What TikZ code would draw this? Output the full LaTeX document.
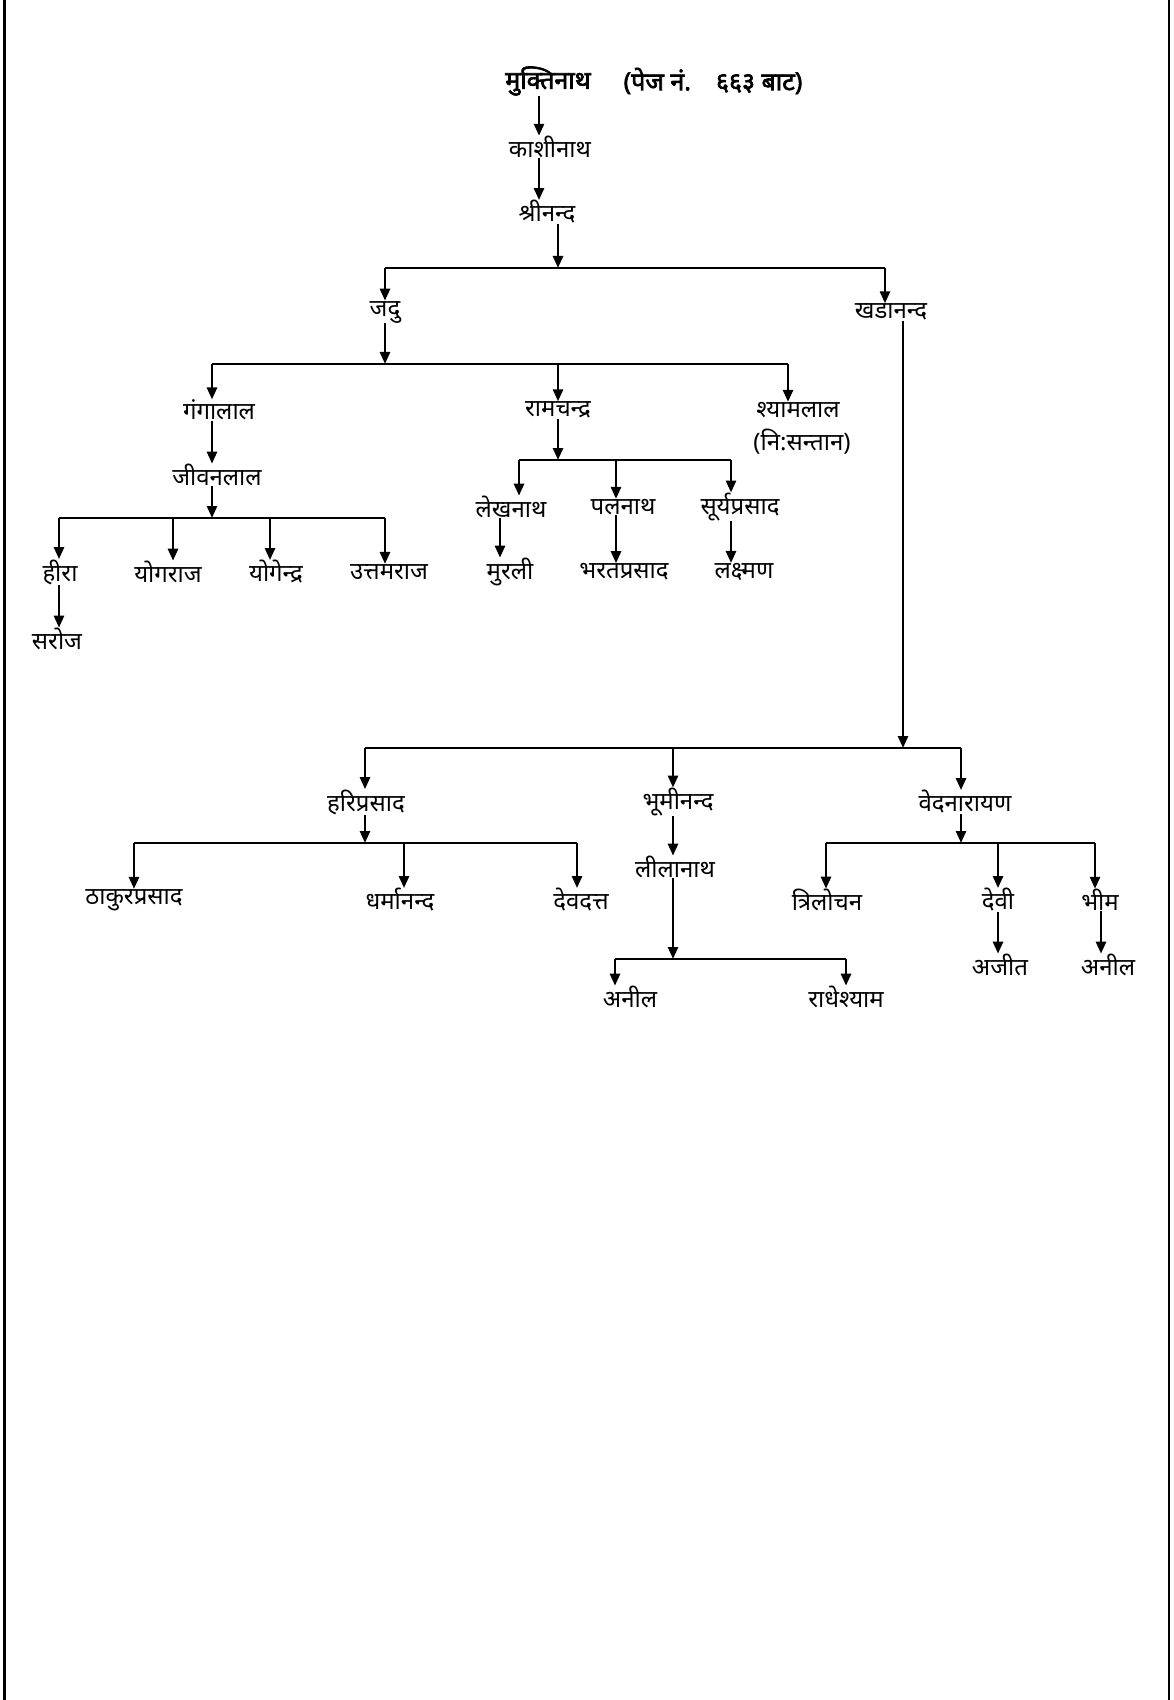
\documentclass[tikz,border=0pt]{standalone}
\usepackage{fontspec}
\setmainfont{Noto Sans}[Script=Devanagari]
\newfontfamily\titlefont{Noto Sans}[Script=Devanagari, FakeBold=2.5]
\usetikzlibrary{arrows.meta}
\begin{document}
\begin{tikzpicture}[x=0.5pt,y=-0.5pt,
  pn/.style={inner sep=0pt, font=\fontsize{12}{14}\selectfont},
  tn/.style={inner sep=0pt, font=\titlefont\fontsize{12.5}{14}\selectfont},
  arr/.style={line width=1.3pt, -{Triangle[length=6pt,width=5pt]}},
  ln/.style={line width=1.3pt}]
\useasboundingbox (0,0) rectangle (1173,1700);
\draw[line width=1.1pt] (4.5,0) -- (4.5,1700);
\draw[line width=1.1pt] (1169,0) -- (1169,1700);

% nodes
\node[tn] (mukti) at (548,81) {मुक्तिनाथ};
\node[tn] (note) at (713,81) {(पेज नं.\quad ६६३ बाट)};
\node[pn] (kashi) at (550,147) {काशीनाथ};
\node[pn] (shri) at (547,212) {श्रीनन्द};
\node[pn] (jedu) at (385,312) {जदु};
\node[pn] (khad) at (891,312) {खडानन्द};
\node[pn] (ganga) at (219,410) {गंगालाल};
\node[pn] (ram) at (558,410) {रामचन्द्र};
\node[pn] (shyam) at (798,410) {श्यामलाल};
\node[pn] (nis) at (802,442) {(नि:सन्तान)};
\node[pn] (jivan) at (217,475) {जीवनलाल};
\node[pn] (heera) at (60,572) {हीरा};
\node[pn] (yogaraj) at (168,572) {योगराज};
\node[pn] (yogendra) at (276,572) {योगेन्द्र};
\node[pn] (uttam) at (389,572) {उत्तमराज};
\node[pn] (saroj) at (57,639) {सरोज};
\node[pn] (lekh) at (511,507) {लेखनाथ};
\node[pn] (pal) at (623,507) {पलनाथ};
\node[pn] (surya) at (740,507) {सूर्यप्रसाद};
\node[pn] (murali) at (510,572) {मुरली};
\node[pn] (bharat) at (624,572) {भरतप्रसाद};
\node[pn] (laxman) at (744,572) {लक्ष्मण};
\node[pn] (hari) at (366,802) {हरिप्रसाद};
\node[pn] (bhumi) at (678,802) {भूमीनन्द};
\node[pn] (ved) at (965,802) {वेदनारायण};
\node[pn] (thakur) at (134,900) {ठाकुरप्रसाद};
\node[pn] (dharma) at (400,900) {धर्मानन्द};
\node[pn] (devdatta) at (581,900) {देवदत्त};
\node[pn] (leela) at (675,867) {लीलानाथ};
\node[pn] (anilA) at (630,997) {अनील};
\node[pn] (radhe) at (846,997) {राधेश्याम};
\node[pn] (trilo) at (827,900) {त्रिलोचन};
\node[pn] (devi) at (998,900) {देवी};
\node[pn] (bhim) at (1100,900) {भीम};
\node[pn] (ajit) at (1000,965) {अजीत};
\node[pn] (anilB) at (1108,965) {अनील};

% junction coordinates
\coordinate (x1) at (539,0);
\coordinate (b1M) at (558,268);
\coordinate (b1L) at (385,268);
\coordinate (b1R) at (885,268);
\coordinate (b2M) at (385,364);
\coordinate (b2L) at (212,364);
\coordinate (b2C) at (558,364);
\coordinate (b2R) at (788,364);
\coordinate (b3M) at (212,518);
\coordinate (b3A) at (59,518);
\coordinate (b3B) at (173,518);
\coordinate (b3C) at (270,518);
\coordinate (b3D) at (385,518);
\coordinate (b4M) at (558,460);
\coordinate (b4A) at (519,460);
\coordinate (b4B) at (616,460);
\coordinate (b4C) at (731,460);
\coordinate (xl) at (500,0);
\coordinate (b5M) at (903,748);
\coordinate (b5A) at (365,748);
\coordinate (b5B) at (673,748);
\coordinate (b5C) at (961,748);
\coordinate (b6M) at (365,843);
\coordinate (b6A) at (134,843);
\coordinate (b6B) at (404,843);
\coordinate (b6C) at (577,843);
\coordinate (b7M) at (673,959);
\coordinate (b7A) at (615,959);
\coordinate (b7B) at (846,959);
\coordinate (b8M) at (961,843);
\coordinate (b8A) at (826,843);
\coordinate (b8B) at (998,843);
\coordinate (b8C) at (1095,843);
\coordinate (xb) at (1101,0);

% connectors
\draw[arr] (mukti.south -| x1) -- (kashi.north -| x1);
\draw[arr] (kashi.south -| x1) -- (shri.north -| x1);
\draw[arr] (shri.south -| b1M) -- (b1M);
\draw[ln] (b1L) -- (b1R);
\draw[arr] (b1L) -- (jedu.north -| b1L);
\draw[arr] (b1R) -- (khad.north -| b1R);

\draw[arr] (jedu.south -| b2M) -- (b2M);
\draw[ln] (b2L) -- (b2R);
\draw[arr] (b2L) -- (ganga.north -| b2L);
\draw[arr] (b2C) -- (ram.north -| b2C);
\draw[arr] (b2R) -- (shyam.north -| b2R);

\draw[arr] (ganga.south -| b2L) -- (jivan.north -| b2L);
\draw[arr] (jivan.south -| b3M) -- (b3M);
\draw[ln] (b3A) -- (b3D);
\draw[arr] (b3A) -- (heera.north -| b3A);
\draw[arr] (b3B) -- (yogaraj.north -| b3B);
\draw[arr] (b3C) -- (yogendra.north -| b3C);
\draw[arr] (b3D) -- (uttam.north -| b3D);
\draw[arr] (heera.south -| b3A) -- (saroj.north -| b3A);

\draw[arr] (ram.south -| b4M) -- (b4M);
\draw[ln] (b4A) -- (b4C);
\draw[arr] (b4A) -- (lekh.north -| b4A);
\draw[arr] (b4B) -- (pal.north -| b4B);
\draw[arr] (b4C) -- (surya.north -| b4C);
\draw[arr] (lekh.south -| xl) -- (murali.north -| xl);
\draw[arr] (pal.south -| b4B) -- (bharat.north -| b4B);
\draw[arr] (surya.south -| b4C) -- (laxman.north -| b4C);

\draw[arr] (khad.south -| b5M) -- (b5M);
\draw[ln] (b5A) -- (b5C);
\draw[arr] (b5A) -- (hari.north -| b5A);
\draw[arr] (b5B) -- (bhumi.north -| b5B);
\draw[arr] (b5C) -- (ved.north -| b5C);

\draw[arr] (hari.south -| b6M) -- (b6M);
\draw[ln] (b6A) -- (b6C);
\draw[arr] (b6A) -- (thakur.north -| b6A);
\draw[arr] (b6B) -- (dharma.north -| b6B);
\draw[arr] (b6C) -- (devdatta.north -| b6C);

\draw[arr] (bhumi.south -| b5B) -- (leela.north -| b5B);
\draw[arr] (leela.south -| b7M) -- (b7M);
\draw[ln] (b7A) -- (b7B);
\draw[arr] (b7A) -- (anilA.north -| b7A);
\draw[arr] (b7B) -- (radhe.north -| b7B);

\draw[arr] (ved.south -| b8M) -- (b8M);
\draw[ln] (b8A) -- (b8C);
\draw[arr] (b8A) -- (trilo.north -| b8A);
\draw[arr] (b8B) -- (devi.north -| b8B);
\draw[arr] (b8C) -- (bhim.north -| b8C);
\draw[arr] (devi.south -| b8B) -- (ajit.north -| b8B);
\draw[arr] (bhim.south -| xb) -- (anilB.north -| xb);
\end{tikzpicture}
\end{document}
